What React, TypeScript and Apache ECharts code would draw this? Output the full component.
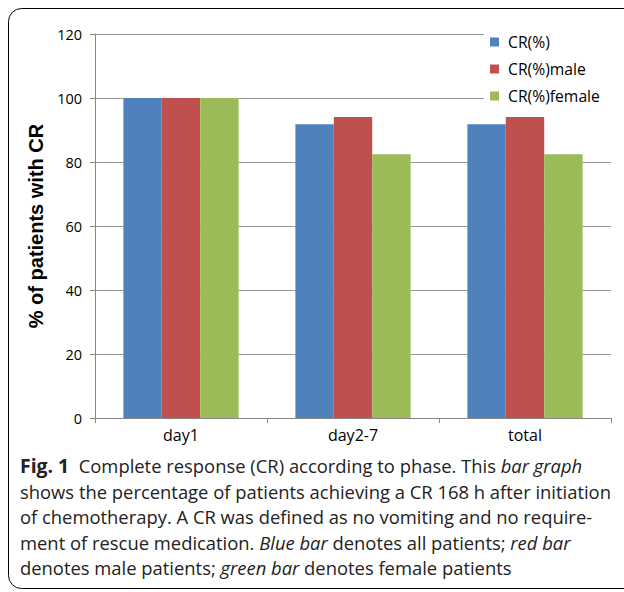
import React, { useEffect, useRef } from "react";
import * as echarts from "echarts";

const categories = ["day1", "day2-7", "total"];
const seriesNames = ["CR(%)", "CR(%)male", "CR(%)female"];
const crAll = [100, 91.8, 91.8];
const crMale = [100, 94.1, 94.1];
const crFemale = [100, 82.4, 82.4];
const colors = ["#4F81BD", "#C0504D", "#9BBB59"];
const yTicks = { min: 0, max: 120, interval: 20 };
const yTitle = "% of patients with CR";
const captionLines = [
  "{b|Fig. 1}{r|  Complete response (CR) according to phase. This }{i|bar graph}",
  "{r|shows the percentage of patients achieving a CR 168 h after initiation}",
  "{r|of chemotherapy. A CR was defined as no vomiting and no require-}",
  "{r|ment of rescue medication. }{i|Blue bar}{r| denotes all patients; }{i|red bar}",
  "{r|denotes male patients; }{i|green bar}{r| denotes female patients}",
];

export default function App() {
  const ref = useRef<HTMLDivElement>(null);
  useEffect(() => {
    if (!ref.current) return;
    const chart = echarts.init(ref.current, null, { renderer: "svg" });
    const font = "Open Sans";
    const capSize = 18.4;
    const lh = 25.5;
    chart.setOption({
      animation: false,
      backgroundColor: "#ffffff",
      grid: { left: 95, right: 13, top: 34, bottom: 174 },
      legend: {
        orient: "vertical",
        left: 484,
        top: 29,
        padding: [5, 40, 5, 6],
        backgroundColor: "#ffffff",
        itemWidth: 9,
        itemHeight: 9,
        itemGap: 11,
        icon: "rect",
        textStyle: { color: "#000", fontSize: 15.7, fontFamily: font, padding: [0, 0, 0, 4] },
        data: seriesNames,
      },
      xAxis: {
        type: "category",
        data: categories,
        axisLine: { lineStyle: { color: "#888" } },
        axisTick: { show: true, length: 5, lineStyle: { color: "#888" } },
        axisLabel: { color: "#000", fontSize: 16, fontFamily: font, margin: 9 },
      },
      yAxis: {
        type: "value",
        min: yTicks.min,
        max: yTicks.max,
        interval: yTicks.interval,
        name: yTitle,
        nameLocation: "middle",
        nameGap: 40,
        nameRotate: 90,
        nameTextStyle: {
          color: "#000",
          fontSize: 20,
          fontWeight: "bold",
          fontFamily: "Liberation Sans",
        },
        axisLine: { show: true, lineStyle: { color: "#888" } },
        axisTick: { show: true, length: 5, lineStyle: { color: "#888" } },
        axisLabel: { color: "#000", fontSize: 14.5, fontFamily: font, margin: 13 },
        splitLine: { lineStyle: { color: "#999" } },
      },
      series: [crAll, crMale, crFemale].map((d, i) => ({
        name: seriesNames[i],
        type: "bar",
        data: d,
        barGap: "0%",
        barCategoryGap: "33%",
        itemStyle: { color: colors[i] },
      })),
      graphic: [
        {
          type: "rect",
          shape: { x: 8.5, y: 8.5, width: 660, height: 580, r: 13 },
          style: { fill: "none", stroke: "#000", lineWidth: 1 },
          silent: true,
        },
        {
          type: "text",
          left: 20,
          top: 453,
          style: {
            text: captionLines.join("\n"),
            fontFamily: font,
            fontSize: capSize,
            lineHeight: lh,
            fill: "#222",
            rich: {
              b: { fontWeight: "bold", fontSize: capSize + 1, fontFamily: font, fill: "#222", lineHeight: lh },
              r: { fontSize: capSize, fontFamily: font, fill: "#222", lineHeight: lh },
              i: { fontStyle: "italic", fontSize: capSize, fontFamily: font, fill: "#222", lineHeight: lh },
            },
          },
        },
      ],
    });
    return () => chart.dispose();
  }, []);
  return (
    <div
      ref={ref}
      style={{ position: "fixed", left: 0, top: 0, width: 624, height: 592 }}
    />
  );
}
